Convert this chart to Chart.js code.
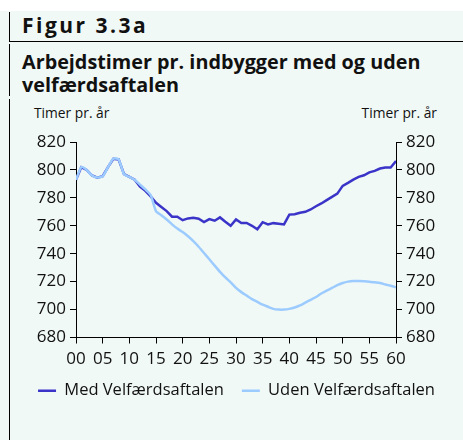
<!DOCTYPE html>
<html>
<head>
<meta charset="utf-8">
<script src="https://cdn.jsdelivr.net/npm/chart.js@4"></script>
<style>
  body { margin: 0; width: 463px; height: 440px; background: #fff; position: relative; overflow: hidden; font-family: "Open Sans", sans-serif; color: #111; }
  .panel { position: absolute; left: 0; top: 11px; width: 463px; height: 429px; background: #f1f9f6; }
  .bar { position: absolute; left: 9px; width: 1px; background: #000; }
  .rule { position: absolute; left: 9px; top: 41px; width: 454px; height: 1px; background: #000; }
  .fig { position: absolute; left: 22px; top: 11px; font-size: 21px; font-weight: bold; line-height: 28px; letter-spacing: 2.5px; }
  .title { position: absolute; left: 22px; top: 50px; font-size: 19.8px; font-weight: bold; line-height: 23px; }
  .unit { position: absolute; top: 104px; font-size: 13.8px; line-height: 18px; }
  #wrap { position: absolute; left: 10px; top: 100px; width: 453px; height: 340px; }
</style>
</head>
<body>
<div class="panel"></div>
<div class="bar" style="top:12px;height:30px"></div>
<div class="rule"></div>
<div class="bar" style="top:44px;height:52px"></div>
<div class="bar" style="top:99px;height:341px"></div>
<div class="fig">Figur 3.3a</div>
<div class="title">Arbejdstimer pr. indbygger med og uden<br>velfærdsaftalen</div>
<div class="unit" style="left:34px">Timer pr. år</div>
<div class="unit" style="right:26px">Timer pr. år</div>
<div id="wrap"><canvas id="chart"></canvas></div>
<script>
// år 2000-2060, vist som 00..60
const years = [0, 1, 2, 3, 4, 5, 6, 7, 8, 9, 10, 11, 12, 13, 14, 15, 16, 17, 18, 19, 20,
  21, 22, 23, 24, 25, 26, 27, 28, 29, 30, 31, 32, 33, 34, 35, 36, 37, 38, 39, 40,
  41, 42, 43, 44, 45, 46, 47, 48, 49, 50, 51, 52, 53, 54, 55, 56, 57, 58, 59, 60];

const medAftale = [793, 802, 800, 796, 794.5, 795.5, 802, 808, 807.5, 797, 795,
  793, 788, 785, 781, 776.5, 773.5, 770.5, 766.5, 766.5, 764,
  765.3, 765.7, 765, 762.6, 764.8, 763.6, 766, 762.9, 760, 764.5,
  762, 762, 760, 757.5, 762.6, 761, 761.9, 761.5, 761, 768,
  768.3, 769.3, 770, 771.7, 774, 776, 778.4, 780.7, 783, 788.6,
  790.7, 793, 795, 796.2, 798.3, 799.3, 801, 801.7, 801.7, 806.4];

const udenAftale = [793, 802, 800, 796, 794.5, 795.5, 802, 808, 807.5, 797, 795,
  793, 789.5, 786, 782, 770.5, 767.5, 764.5, 761, 758, 755.5,
  752.5, 749, 745, 740.5, 736, 731.5, 727, 723, 719.5, 715.5,
  712.5, 710, 707.5, 705.5, 703.5, 702, 700.5, 700, 700, 700.5,
  701.5, 703, 705, 707, 709, 711.5, 713.5, 715.5, 717.5, 719,
  720, 720.5, 720.5, 720.3, 720, 719.5, 719, 718, 717, 716];

const seriesNames = ['Med Velfærdsaftalen', 'Uden Velfærdsaftalen'];
const yTicks = [680, 700, 720, 740, 760, 780, 800, 820];

const toPoints = vals => years.map((x, i) => ({ x: x, y: vals[i] }));
const font = { family: '"Open Sans", sans-serif', size: 17 };

const axisY = (pos, w) => ({
  type: 'linear',
  position: pos,
  min: yTicks[0],
  max: yTicks[yTicks.length - 1],
  afterBuildTicks: s => { s.ticks = yTicks.map(v => ({ value: v })); },
  afterFit: s => { s.width = w; },
  border: { color: '#000', width: 1 },
  grid: { drawOnChartArea: false, drawTicks: true, tickLength: 6, tickColor: '#000' },
  ticks: { color: '#111', font: font, padding: 4 }
});

new Chart(document.getElementById('chart'), {
  type: 'line',
  data: {
    datasets: [
      { label: seriesNames[0], data: toPoints(medAftale), borderColor: '#3a34c8', backgroundColor: '#3a34c8',
        borderWidth: 2.5, pointRadius: 0, tension: 0, order: 1, yAxisID: 'y' },
      { label: seriesNames[1], data: toPoints(udenAftale), borderColor: '#9ccbff', backgroundColor: '#9ccbff',
        borderWidth: 2.5, pointRadius: 0, tension: 0.2, order: 0, yAxisID: 'y' }
    ]
  },
  options: {
    responsive: true,
    maintainAspectRatio: false,
    animation: false,
    layout: { padding: { top: 42, left: 0, right: 0, bottom: 31 } },
    scales: {
      x: {
        type: 'linear',
        min: 0,
        max: 60,
        afterFit: s => { s.height = 27; },
        border: { color: '#000', width: 1 },
        grid: { drawOnChartArea: false, drawTicks: true, tickLength: 6, tickColor: '#000' },
        ticks: { stepSize: 5, color: '#111', font: font, padding: 5, maxRotation: 0,
          callback: v => String(v).padStart(2, '0') }
      },
      y: axisY('left', 66),
      y2: axisY('right', 67)
    },
    plugins: {
      tooltip: { enabled: false },
      legend: {
        position: 'bottom',
        labels: {
          color: '#111',
          font: { family: '"Open Sans", sans-serif', size: 16.5 },
          usePointStyle: true,
          pointStyle: 'line',
          pointStyleWidth: 18,
          padding: 18,
          sort: (a, b) => a.datasetIndex - b.datasetIndex
        }
      }
    }
  }
});
</script>
</body>
</html>
